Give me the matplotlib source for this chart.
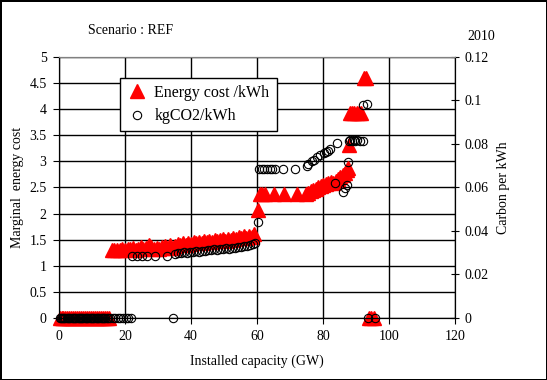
import matplotlib
matplotlib.use("Agg")
import matplotlib.pyplot as plt
from matplotlib.lines import Line2D

plt.rcParams['font.family'] = ['Liberation Serif', 'DejaVu Serif']
plt.rcParams['font.size'] = 10

# Energy cost /kWh (left axis)
cost_x = [0.3, 0.8, 1.3, 1.9, 2.5, 3.0, 3.6, 4.2, 4.8, 5.4, 6.0, 6.6, 7.2, 7.9, 8.5,
          9.1, 9.7, 10.3, 10.9, 11.5, 12.1, 12.8, 13.4, 14.0, 14.6, 15.1,
          16.0, 16.8, 17.6, 18.4, 19.2, 20.0, 20.8, 21.6, 22.4, 23.2, 24.0, 24.8,
          25.6, 26.4, 27.2, 28.0, 28.8, 29.6, 30.4, 31.2, 32.0, 32.8, 33.6, 34.4,
          35.2, 36.0, 36.8, 37.6, 38.4, 39.2, 40.0, 40.8, 41.6, 42.4, 43.2, 44.0,
          44.8, 45.6, 46.4, 47.2, 48.0, 48.8, 49.6, 50.4, 51.2, 52.0, 52.8, 53.6,
          54.4, 55.2, 56.0, 56.8, 57.6, 58.4, 59.2,
          60.4, 61.0, 61.6, 62.3, 65.0, 68.2, 72.0,
          74.8, 75.5, 76.3, 77.1, 77.8, 78.6, 79.3, 80.0, 80.8, 81.6, 82.3, 83.1,
          83.8, 84.6, 85.3, 86.0, 86.6, 87.2, 87.7,
          87.8, 88.2, 88.8, 89.5, 90.2, 90.8, 91.5,
          92.4, 93.0, 93.8, 94.6, 95.4]
cost_y = [0, 0, 0, 0, 0, 0, 0, 0, 0, 0, 0, 0, 0, 0, 0,
          0, 0, 0, 0, 0, 0, 0, 0, 0, 0, 0,
          1.30, 1.30, 1.31, 1.30, 1.32, 1.31, 1.33, 1.32, 1.34, 1.31, 1.33, 1.36,
          1.32, 1.34, 1.39, 1.36, 1.33, 1.35, 1.32, 1.36, 1.38, 1.35, 1.39, 1.34,
          1.38, 1.42, 1.39, 1.43, 1.40, 1.44, 1.42, 1.45, 1.43, 1.46, 1.44, 1.47,
          1.45, 1.48, 1.46, 1.50, 1.47, 1.49, 1.51, 1.48, 1.52, 1.50, 1.53, 1.51,
          1.55, 1.53, 1.57, 1.54, 1.58, 1.56, 1.60,
          2.06, 2.37, 2.38, 2.37, 2.38, 2.37, 2.37,
          2.38, 2.40, 2.43, 2.45, 2.47, 2.50, 2.53, 2.55, 2.56, 2.58, 2.60, 2.59,
          2.62, 2.66, 2.70, 2.74, 2.78, 2.83, 2.88,
          3.31, 3.92, 3.92, 3.92, 3.92, 3.92, 3.92,
          4.59, 4.60, 0, 0, 0]

# kgCO2/kWh (right axis)
co2_x = [0.2, 0.5, 0.9, 1.2, 1.6, 1.9, 2.3, 2.7, 3.0, 3.4, 3.8, 4.1, 4.5, 4.9, 5.2,
         5.6, 6.0, 6.3, 6.7, 7.1, 7.4, 7.8, 8.2, 8.5, 8.9, 9.3, 9.6, 10.0, 10.4,
         10.7, 11.1, 11.5, 11.8, 12.2, 12.6, 12.9, 13.3, 13.7, 14.0, 14.4, 14.8,
         15.5, 16.3, 17.0, 17.8, 18.6, 19.4, 20.2, 21.0, 21.8, 34.6,
         22.2, 23.5, 25.0, 26.6, 29.0, 32.6, 35.2, 36.2, 37.0, 38.0, 38.9, 39.8,
         40.7, 41.6, 42.5, 43.4, 44.3, 45.2, 46.1, 47.0, 47.9, 48.8, 49.7, 50.6,
         51.5, 52.4, 53.3, 54.2, 55.1, 56.0, 56.9, 57.8, 58.7, 59.4,
         60.4, 60.6, 61.4, 62.2, 63.0, 63.8, 64.6, 65.5, 68.0, 71.5,
         75.3, 75.6, 76.6, 77.3, 78.3, 79.2, 80.2, 80.8, 81.5, 82.2, 84.1,
         83.6, 86.2, 86.6, 87.2, 87.7,
         87.8, 88.3, 88.8, 89.3, 89.8, 90.4, 91.2, 92.2,
         92.2, 93.2, 93.7, 95.8]
co2_y = [0, 0, 0, 0, 0, 0, 0, 0, 0, 0, 0, 0, 0, 0, 0,
         0, 0, 0, 0, 0, 0, 0, 0, 0, 0, 0, 0, 0, 0,
         0, 0, 0, 0, 0, 0, 0, 0, 0, 0, 0, 0,
         0, 0, 0, 0, 0, 0, 0, 0, 0, 0,
         0.0285, 0.0283, 0.0285, 0.0284, 0.0283, 0.0285, 0.0295, 0.0300, 0.0298, 0.0302, 0.0300, 0.0304,
         0.0303, 0.0307, 0.0305, 0.0310, 0.0308, 0.0312, 0.0311, 0.0315, 0.0313, 0.0318, 0.0316, 0.0321,
         0.0319, 0.0324, 0.0322, 0.0328, 0.0326, 0.0332, 0.0331, 0.0337, 0.0340, 0.0346,
         0.0443, 0.0685, 0.0685, 0.0685, 0.0685, 0.0685, 0.0685, 0.0685, 0.0685, 0.0685,
         0.0700, 0.0706, 0.0722, 0.0728, 0.0742, 0.0750, 0.0760, 0.0765, 0.0770, 0.0775, 0.0803,
         0.0620, 0.0580, 0.0598, 0.0612, 0.0718,
         0.0815, 0.0817, 0.0815, 0.0817, 0.0815, 0.0817, 0.0815, 0.0815,
         0.0980, 0.0982, 0, 0]

x_ticks = [0, 20, 40, 60, 80, 100, 120]
cost_ticks = [0, 0.5, 1, 1.5, 2, 2.5, 3, 3.5, 4, 4.5, 5]
co2_ticks = [0, 0.02, 0.04, 0.06, 0.08, 0.1, 0.12]

fig = plt.figure(figsize=(5.47, 3.8), dpi=100, edgecolor='black', linewidth=2)
ax = fig.add_axes([0.1079, 0.1632, 0.7239, 0.6868])
ax2 = ax.twinx()

ax.plot(cost_x, cost_y, linestyle='none', marker='^', markersize=9.5,
        color='red', markeredgecolor='red', clip_on=False)
ax2.plot(co2_x, co2_y, linestyle='none', marker='o', markersize=6,
         markerfacecolor='none', markeredgecolor='black', markeredgewidth=0.8,
         clip_on=False)

ax.set_xlim(0, 120)
ax.set_ylim(0, 5)
ax2.set_ylim(0, 0.12)
ax.set_xticks(x_ticks)
ax.set_yticks(cost_ticks)
ax.set_yticklabels(['0', '0.5', '1', '1.5', '2', '2.5', '3', '3.5', '4', '4.5', '5'])
ax2.set_yticks(co2_ticks)
ax2.set_yticklabels(['0', '0.02', '0.04', '0.06', '0.08', '0.1', '0.12'])

ax.grid(True, color='black', linewidth=1)
ax.set_axisbelow(True)
ax.tick_params(direction='out', length=4, color='black', pad=5)
ax2.tick_params(direction='inout', length=6, color='black')

for a in (ax, ax2):
    a.spines['top'].set_color('#808080')
    for s in ('left', 'right', 'bottom'):
        a.spines[s].set_color('black')

ax.set_xlabel('Installed capacity (GW)', labelpad=8)
ax.set_ylabel('Marginal  energy cost', labelpad=4)
ax2.set_ylabel('Carbon per kWh', labelpad=6)

handles = [Line2D([], [], linestyle='none', marker='^', markersize=9.5, color='red'),
           Line2D([], [], linestyle='none', marker='o', markersize=6,
                  markerfacecolor='none', markeredgecolor='black', markeredgewidth=0.8)]
leg = ax2.legend(handles, ['Energy cost /kWh', 'kgCO2/kWh'], loc='upper left',
                 bbox_to_anchor=(0.154, 0.92), borderaxespad=0, fancybox=False,
                 framealpha=1, edgecolor='black', fontsize=11.5,
                 handletextpad=0.5, borderpad=0.45, labelspacing=0.45,
                 handlelength=1.2)
leg.get_frame().set_linewidth(1)

fig.text(88 / 547, 1 - 30 / 380, 'Scenario : REF', ha='left', va='center')
fig.text(495 / 547, 1 - 36 / 380, '2010', ha='right', va='center')

fig.savefig('out.png', dpi=100, edgecolor=fig.get_edgecolor())
